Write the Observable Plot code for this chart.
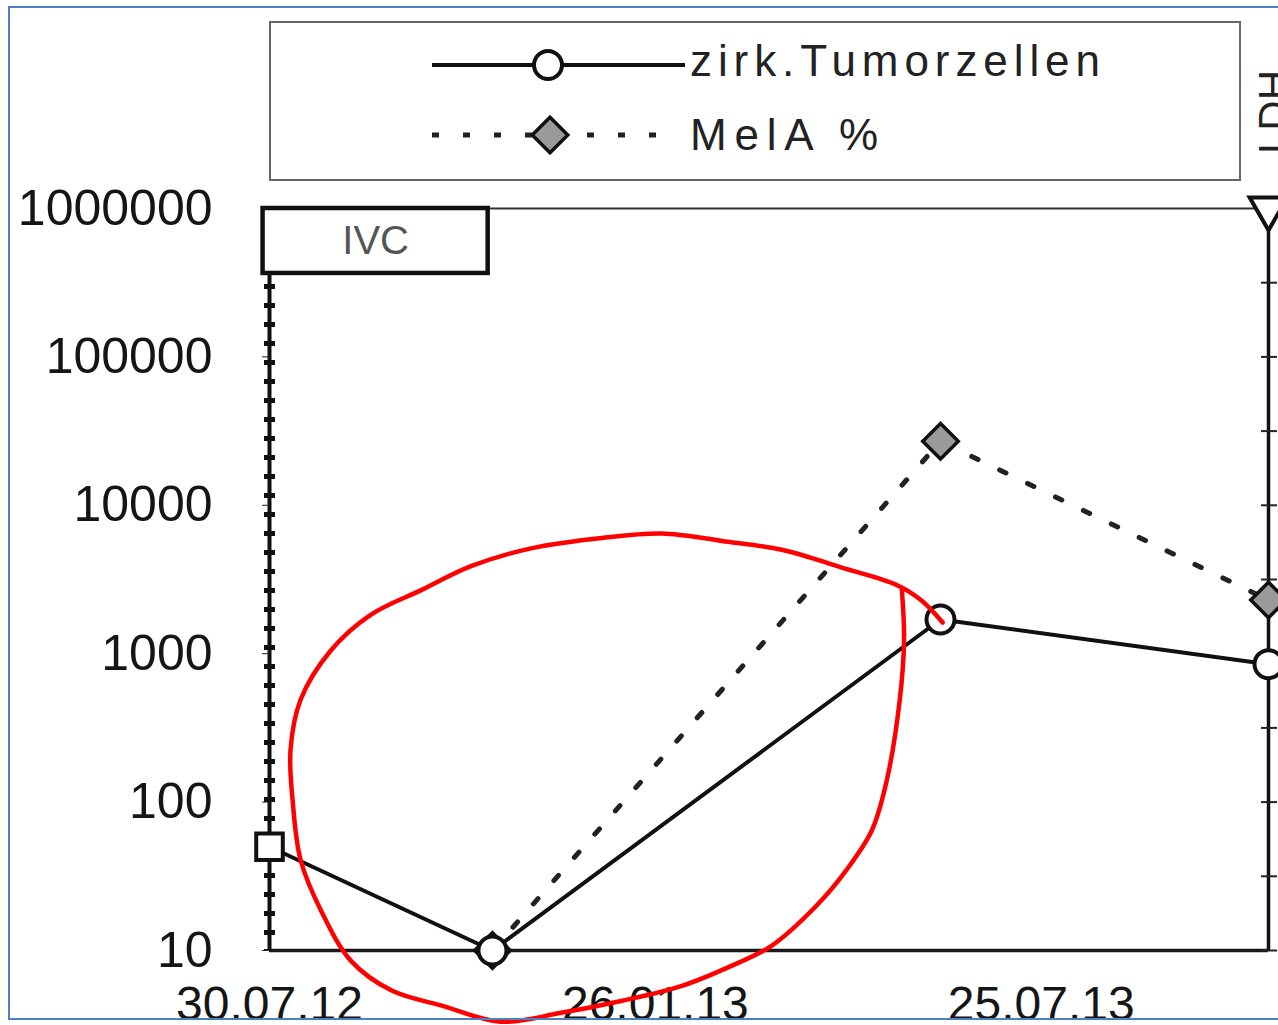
<!DOCTYPE html>
<html>
<head>
<meta charset="utf-8">
<script src="https://cdn.jsdelivr.net/npm/d3@7"></script>
<script src="https://cdn.jsdelivr.net/npm/@observablehq/plot@0.6"></script>
<style>
  html, body { margin: 0; padding: 0; background: #fff; }
  #wrap { position: relative; width: 1278px; height: 1025px; overflow: hidden; background: #fff; font-family: "Liberation Sans", Arial, sans-serif; }
  #frame { position: absolute; left: 8px; top: 6px; width: 1290px; height: 1014px; border: 2px solid #4f7fc0; box-sizing: border-box; pointer-events: none; }
  #chart, #overlay { position: absolute; left: 0; top: 0; }
</style>
</head>
<body>
<div id="wrap">
  <div id="chart"></div>
  <svg id="overlay" width="1278" height="1025"></svg>
  <div id="frame"></div>
</div>
<script>
// ---- data ----
const seriesNames = ["zirk.Tumorzellen", "MelA %", "LDH"];
const zirkDates = ["2012-07-30", "2012-11-11", "2013-06-08", "2013-11-08"];
const zirkValues = [50, 10, 1700, 850];
const melaDates = ["2012-11-11", "2013-06-08", "2013-11-08"];
const melaValues = [10, 27000, 2300];
const ldhDates = ["2013-11-08"];
const ldhValues = [1000];
const therapyLabels = ["IVC"];
const therapyStarts = ["2012-07-27"];
const therapyEnds = ["2012-11-09"];
const xTickLabels = ["2012-07-30", "2013-01-26", "2013-07-25"];
const yTickValues = [10, 100, 1000, 10000, 100000, 1000000];
const ldhTickValues = [0, 100, 200, 300, 400, 500, 600, 700, 800, 900, 1000];
// hand-drawn red highlight (days after 30.07.12, log10 of value)
const highlightDays = [295, 296, 294, 288, 281, 269, 255, 234, 216, 192, 164, 136, 108, 80, 57, 38, 24, 14.5, 10.8, 9.8, 14.5, 28.5, 47, 71, 94, 122, 155, 183, 211, 239, 267, 293, 304, 314];
const highlightLog = [3.43, 3.09, 2.69, 2.15, 1.81, 1.54, 1.30, 1.03, 0.90, 0.76, 0.66, 0.58, 0.52, 0.63, 0.73, 0.93, 1.27, 1.61, 2.01, 2.35, 2.69, 3.02, 3.26, 3.43, 3.59, 3.71, 3.78, 3.81, 3.76, 3.70, 3.58, 3.46, 3.36, 3.21];

// ---- tables ----
const parse = d3.utcParse("%Y-%m-%d");
const start = parse("2012-07-30");
const end = parse("2013-11-08");
const zirk = zirkDates.map((d, i) => ({date: parse(d), value: zirkValues[i]}));
const mela = melaDates.map((d, i) => ({date: parse(d), value: melaValues[i]}));
const ldh = ldhDates.map((d, i) => ({date: parse(d), value: ldhValues[i]}));
const therapies = therapyLabels.map((l, i) => ({label: l, start: parse(therapyStarts[i]), end: parse(therapyEnds[i])}));
const highlight = highlightDays.map((d, i) => ({date: new Date(start.getTime() + d * 864e5), value: Math.pow(10, highlightLog[i])}));
// secondary LDH axis (linear 0..1000) expressed on the primary log scale
const ldhToPrimary = v => Math.pow(10, 1 + 5 * v / 1000);
const ldhTicksPrimary = ldhTickValues.map(ldhToPrimary);
const ldhPoints = ldh.map(d => ({date: d.date, value: ldhToPrimary(d.value)}));

const ivcTop = 1000000, ivcBottom = 365000;

const chart = Plot.plot({
  width: 1278,
  height: 1025,
  marginLeft: 269,
  marginRight: 10,
  marginTop: 208,
  marginBottom: 75,
  style: {fontFamily: "'Liberation Sans', Arial, sans-serif", color: "#151515", background: "transparent", overflow: "visible"},
  x: {type: "utc", domain: [start, end], axis: null},
  y: {type: "log", domain: [10, 1000000], axis: null},
  marks: [
    // frame lines
    Plot.ruleY([1000000], {stroke: "#333", strokeWidth: 2}),
    Plot.ruleY([10], {stroke: "#1a1a1a", strokeWidth: 3.5}),
    Plot.ruleX([end], {stroke: "#111", strokeWidth: 3.5}),
    // therapy start line (dotted heavy)
    Plot.ruleX([start], {stroke: "#111", strokeWidth: 4}),
    Plot.ruleX([start], {stroke: "#111", strokeWidth: 11, strokeDasharray: "5,14"}),
    // axes
    Plot.axisY(yTickValues, {anchor: "left", tickSize: 7, tickPadding: 50, fontSize: 50, tickFormat: d => String(d), label: null, stroke: "#222"}),
    Plot.axisY(ldhTicksPrimary, {anchor: "right", tickSize: 16, dx: -8, tickFormat: () => "", label: null, stroke: "#222", strokeWidth: 2}),
    Plot.axisX(xTickLabels.map(parse), {anchor: "bottom", tickSize: 0, tickPadding: 35, fontSize: 48, tickFormat: d3.utcFormat("%d.%m.%y"), label: null}),
    // therapy box
    Plot.rect(therapies, {x1: "start", x2: "end", y1: () => ivcTop, y2: () => ivcBottom, fill: "white", stroke: "#111", strokeWidth: 4.5}),
    Plot.text(therapies, {x: d => new Date((d.start.getTime() + d.end.getTime()) / 2), y: () => Math.sqrt(ivcTop * ivcBottom), text: "label", fontSize: 40, fill: "#555"}),
    // series
    Plot.line(zirk, {x: "date", y: "value", stroke: "#111", strokeWidth: 4}),
    Plot.line(mela, {x: "date", y: "value", stroke: "#222", strokeWidth: 5, strokeDasharray: "7,24"}),
    Plot.dot(mela, {x: "date", y: "value", symbol: "diamond2", r: 16, fill: "#9a9a9a", stroke: "#111", strokeWidth: 3.5}),
    Plot.dot(zirk.slice(0, 1), {x: "date", y: "value", symbol: "square", r: 15, fill: "white", stroke: "#111", strokeWidth: 4}),
    Plot.dot(zirk.slice(1), {x: "date", y: "value", symbol: "circle", r: 14, fill: "white", stroke: "#111", strokeWidth: 4}),
    Plot.dot(ldhPoints, {x: "date", y: "value", symbol: "triangle", rotate: 180, r: 14, fill: "white", stroke: "#111", strokeWidth: 4}),
    // red hand-drawn highlight
    Plot.line(highlight, {x: "date", y: "value", stroke: "#ff0000", strokeWidth: 4.5, curve: "catmull-rom"})
  ]
});
document.getElementById("chart").appendChild(chart);

// ---- legend (above the plot area) ----
const ov = d3.select("#overlay");
ov.append("rect").attr("x", 270).attr("y", 22).attr("width", 970).attr("height", 158)
  .attr("fill", "white").attr("stroke", "#666").attr("stroke-width", 2);
// entry 1
ov.append("line").attr("x1", 432).attr("x2", 685).attr("y1", 65).attr("y2", 65).attr("stroke", "#111").attr("stroke-width", 4);
ov.append("path").attr("d", d3.symbol(d3.symbolCircle, Math.PI * 14 * 14)()).attr("transform", "translate(548,65)")
  .attr("fill", "white").attr("stroke", "#111").attr("stroke-width", 4);
ov.append("text").attr("x", 690).attr("y", 76).attr("font-size", 44).attr("fill", "#222")
  .attr("textLength", 410).attr("lengthAdjust", "spacing").text(seriesNames[0]);
// entry 2
ov.append("line").attr("x1", 432).attr("x2", 668).attr("y1", 135).attr("y2", 135).attr("stroke", "#222").attr("stroke-width", 5).attr("stroke-dasharray", "7,24");
ov.append("path").attr("d", d3.symbol(d3.symbolDiamond2, Math.PI * 16 * 16)()).attr("transform", "translate(550,135)")
  .attr("fill", "#9a9a9a").attr("stroke", "#111").attr("stroke-width", 3.5);
ov.append("text").attr("x", 690).attr("y", 150).attr("font-size", 44).attr("fill", "#222")
  .attr("textLength", 188).attr("lengthAdjust", "spacing").text(seriesNames[1]);
// secondary axis title (mostly outside the picture)
ov.append("text").attr("transform", "translate(1288,112) rotate(-90)").attr("text-anchor", "middle")
  .attr("font-size", 42).attr("fill", "#222").text(seriesNames[2]);
</script>
</body>
</html>
